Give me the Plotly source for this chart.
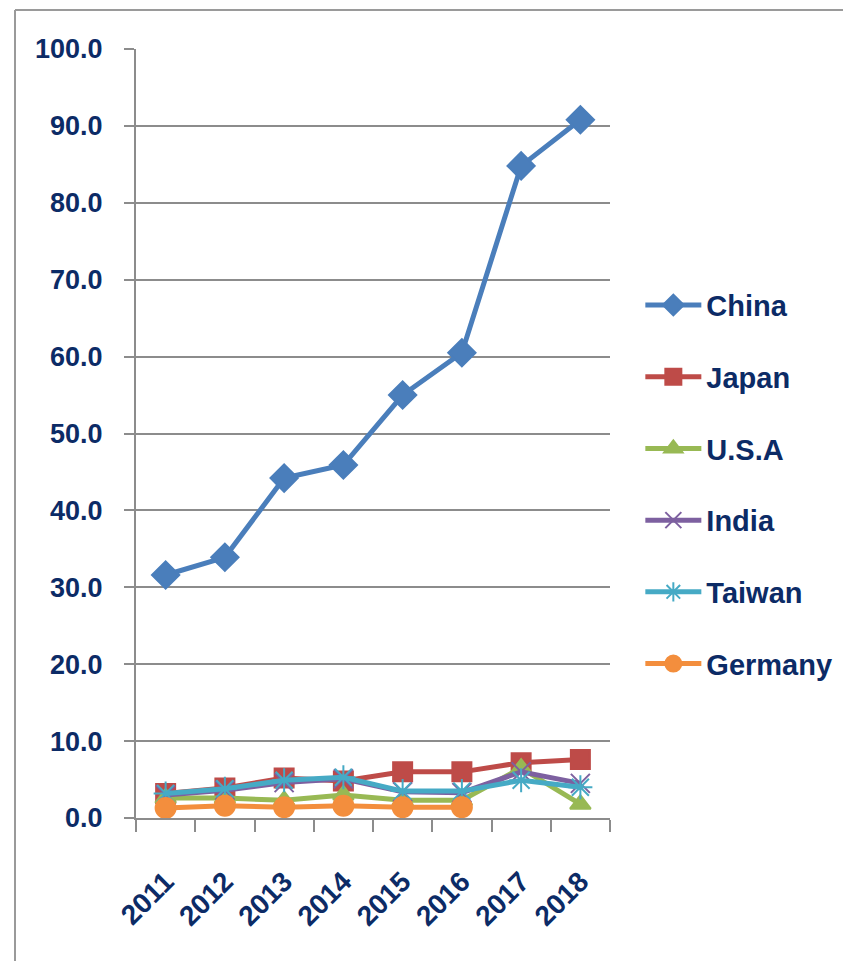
import plotly.graph_objects as go

years = ["2011", "2012", "2013", "2014", "2015", "2016", "2017", "2018"]
china = [31.6, 33.9, 44.2, 45.9, 55.0, 60.5, 84.8, 90.8]
japan = [3.2, 3.9, 5.2, 4.8, 6.0, 6.0, 7.2, 7.6]
usa = [2.6, 2.6, 2.3, 3.0, 2.3, 2.3, 6.5, 1.8]
india = [3.0, 3.6, 4.6, 5.1, 3.4, 3.3, 6.0, 4.5]
taiwan = [3.2, 3.8, 4.9, 5.3, 3.5, 3.5, 4.9, 4.0]
germany = [1.3, 1.6, 1.4, 1.6, 1.4, 1.4, None, None]

series = [
    ("China", china, "#4A7EBB", "diamond", 21),
    ("Japan", japan, "#BE4B48", "square", 19),
    ("U.S.A", usa, "#98B954", "triangle-up", 18),
    ("India", india, "#7D60A0", "x-thin-open", 19),
    ("Taiwan", taiwan, "#46AAC5", "asterisk-open", 20),
    ("Germany", germany, "#F38E3D", "circle", 20),
]

fig = go.Figure()
for i, (name, vals, col, sym, sz) in enumerate(series):
    fig.add_trace(go.Scatter(
        x=years, y=vals, name=name, mode="lines+markers",
        line=dict(color=col, width=5),
        marker=dict(symbol=sym, size=sz, color=col,
                    line=dict(color=col, width=2)),
        legendgroup=name,
    ))

# page is offset by the 8px body margin; layout compensates for it
L, T, PW, PH = 128, 41, 474, 769
txt = "#0C2B66"
fig.update_layout(
    width=851, height=961,
    margin=dict(l=L, r=851 - L - PW, t=T, b=961 - T - PH, autoexpand=False),
    plot_bgcolor="white", paper_bgcolor="white",
    font=dict(family="Liberation Sans", size=26, color=txt, weight="bold"),
    showlegend=True,
    legend=dict(x=1.064, y=0.70, xanchor="left", yanchor="top",
                font=dict(size=29, color=txt, weight="bold"),
                tracegroupgap=31, itemwidth=56, bgcolor="rgba(0,0,0,0)"),
    xaxis=dict(type="category", range=[-0.5, 7.5], autorange=False,
               automargin=False, showgrid=False, showline=True,
               linecolor="#8C8C8C", linewidth=2, ticks="outside",
               tickson="boundaries", ticklen=12, tickcolor="#8C8C8C",
               tickwidth=2, tickangle=-45, ticklabelstandoff=34,
               tickfont=dict(size=28, color=txt, weight="bold")),
    yaxis=dict(range=[0, 100], dtick=10, tickformat=".1f", showgrid=True,
               automargin=False,
               gridcolor="#8C8C8C", gridwidth=2, showline=True,
               linecolor="#8C8C8C", linewidth=2, ticks="outside",
               ticklen=10, tickcolor="#8C8C8C", tickwidth=2,
               zeroline=False, ticklabelstandoff=16,
               tickfont=dict(size=27, color=txt, weight="bold")),
    shapes=[
        dict(type="line", xref="paper", yref="paper",
             x0=(7 - L) / PW, x1=(7 - L) / PW,
             y0=(T + PH - 2) / PH, y1=(T + PH - 970) / PH,
             line=dict(color="#9A9A9A", width=2)),
        dict(type="line", xref="paper", yref="paper",
             x0=(7 - L) / PW, x1=(860 - L) / PW,
             y0=(T + PH - 2) / PH, y1=(T + PH - 2) / PH,
             line=dict(color="#9A9A9A", width=2)),
    ],
)

fig.write_html("out.html")
